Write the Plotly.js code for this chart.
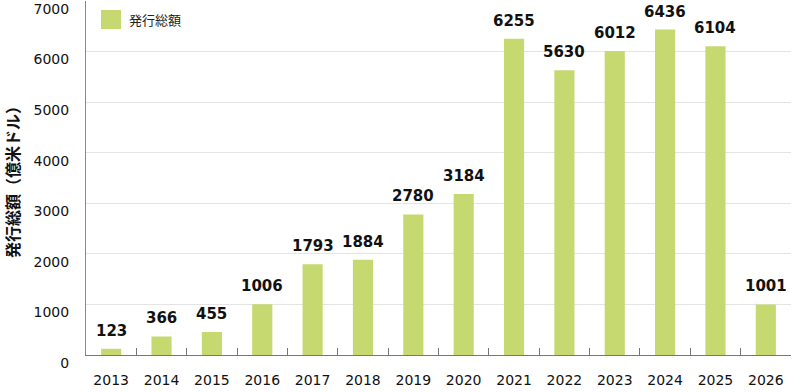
<!DOCTYPE html>
<html><head><meta charset="utf-8">
<script src="https://cdn.plot.ly/plotly-3.0.1.min.js"></script>
<style>html,body{margin:0;padding:0;background:#fff}</style>
</head><body><div id="chart" style="width:800px;height:392px"></div>
<script>
const years = ['2013','2014','2015','2016','2017','2018','2019','2020','2021','2022','2023','2024','2025','2026'];
const issuance = [123,366,455,1006,1793,1884,2780,3184,6255,5630,6012,6436,6104,1001];
const seriesName = '発行総額';
const yTitle = '発行総額（億米ドル）';
const font = '"Noto Sans CJK JP", "Noto Sans", sans-serif';
const numFont = '"DejaVu Sans", "Noto Sans CJK JP", sans-serif';
const barColor = '#c5d970';
const PH = 354, PW = 705;

// category axis: position i corresponds to years[i]
const valueLabels = issuance.map((v, i) => ({
  x: i, y: v, xref: 'x', yref: 'y', text: String(v),
  showarrow: false, xanchor: 'center', yanchor: 'bottom', yshift: 7,
  font: {family: numFont, size: 15, color: '#111', weight: 'bold'}
}));

Plotly.newPlot('chart', [{
  type: 'bar', x: years, y: issuance, name: seriesName,
  marker: {color: barColor}, showlegend: false
}], {
  width: 800, height: 392,
  margin: {l: 86, r: 9, t: 1, b: 37},
  paper_bgcolor: '#fff', plot_bgcolor: '#fff',
  font: {family: font, size: 14, color: '#111'},
  bargap: 0.6,
  showlegend: false,
  shapes: [{type: 'rect', xref: 'paper', yref: 'paper',
    x0: 15/PW, x1: 35/PW, y0: 1 - 28/PH, y1: 1 - 9/PH,
    fillcolor: barColor, line: {width: 0}}],
  annotations: valueLabels.concat([{xref: 'paper', yref: 'paper', x: 41/PW, y: 1 - 18.5/PH,
    xanchor: 'left', yanchor: 'middle', text: seriesName, showarrow: false,
    font: {size: 13, color: '#222'}}]),
  xaxis: {
    type: 'category', showline: true, linecolor: '#777', linewidth: 1,
    ticks: 'inside', tickson: 'boundaries', ticklen: 7, tickcolor: '#777',
    showgrid: false, tickfont: {family: numFont, size: 14, color: '#111'}, ticklabelstandoff: 12
  },
  yaxis: {
    range: [0, 7000], dtick: 1000, showline: true, linecolor: '#888', linewidth: 1,
    gridcolor: '#e4e4e4', zeroline: false, ticks: '',
    tickfont: {family: numFont, size: 14, color: '#111'}, ticklabelstandoff: 13, ticklabelshift: 8,
    title: {text: yTitle, font: {size: 16, color: '#111', weight: 'bold'}, standoff: 20}
  }
}, {displayModeBar: false, staticPlot: true});
</script></body></html>
